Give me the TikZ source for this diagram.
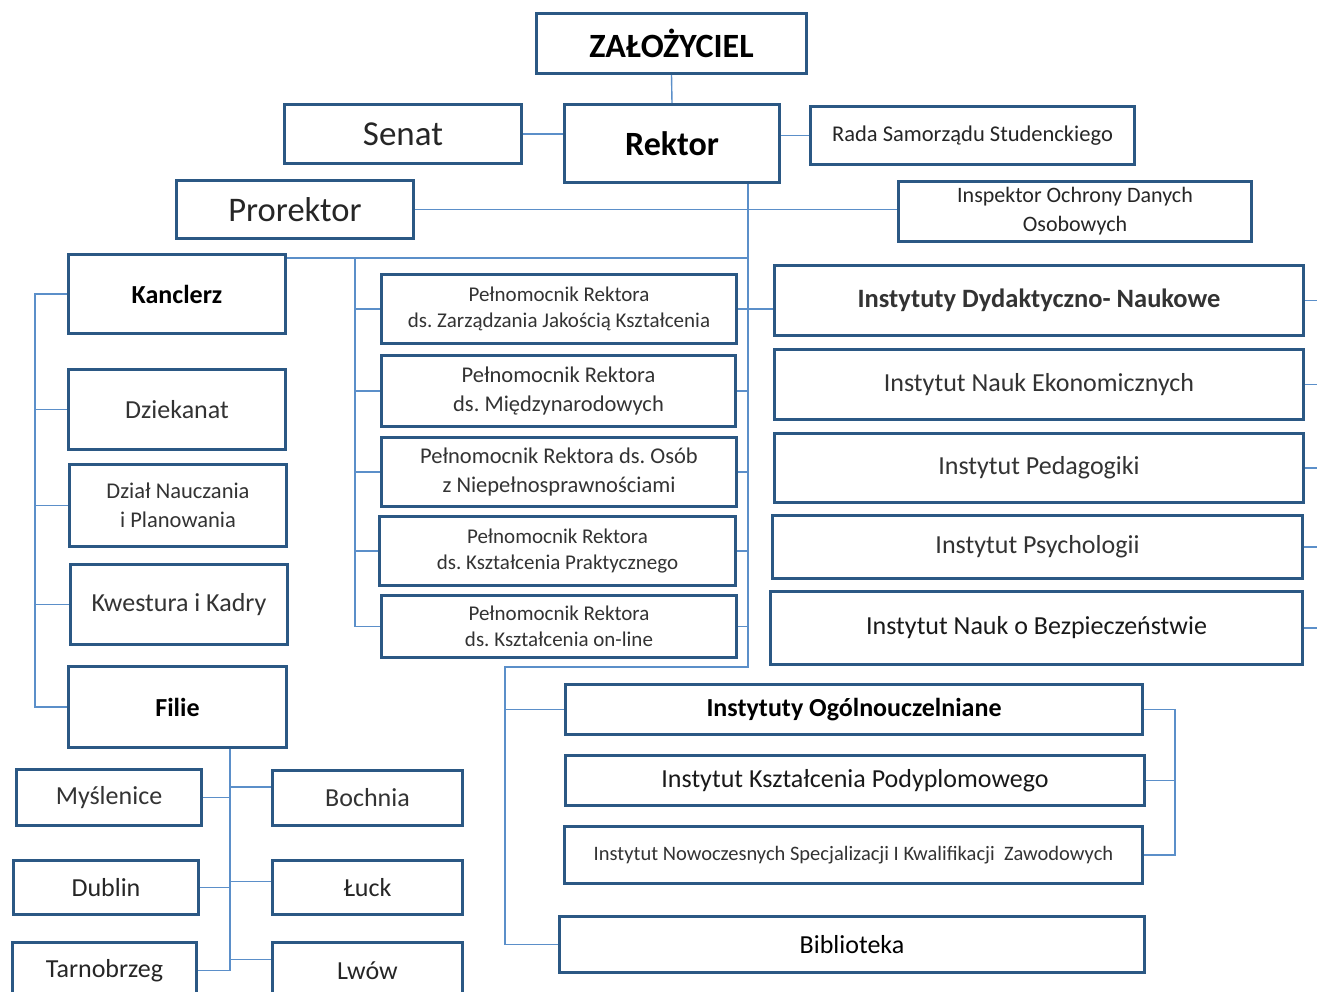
\documentclass[tikz,border=0pt]{standalone}
\usepackage{fontspec}
\setmainfont{Carlito}
\usepackage{tikz}
\frenchspacing

\definecolor{framecol}{HTML}{2B5884}
\definecolor{linkcol}{HTML}{5B8FC9}
\definecolor{txtcol}{HTML}{333333}

\newcommand{\fs}[2]{\fontsize{#1}{#2}\selectfont}

\begin{document}
\begin{tikzpicture}[x=1pt,y=-1pt,unit/.style={draw=framecol,line width=3pt,fill=white,anchor=north west,inner sep=2pt,align=center,text=txtcol},head/.style={unit,text=black},link/.style={draw=linkcol,line width=1.4pt}]
  \useasboundingbox (0,0) rectangle (1317,991);
  %top
  \node[head,at={(535,12)},minimum width=270,minimum height=60,font=\fs{34}{40}\bfseries] (zal) {ZAŁOŻYCIEL};
  \node[unit,at={(283,103)},minimum width=237,minimum height=59,font=\fs{35}{40},text=black!85] (senat) {Senat};
  \node[head,at={(563,103)},minimum width=215,minimum height=78,font=\fs{34}{40}\bfseries] (rektor) {Rektor};
  \node[unit,at={(809,105)},minimum width=324,minimum height=58,font=\fs{22.5}{28},text=black!85] (rada) {Rada Samorządu Studenckiego};
  \node[unit,at={(175,179)},minimum width=237,minimum height=58,font=\fs{34.5}{40},text=black!85] (prorektor) {Prorektor};
  \node[unit,at={(897,180)},minimum width=353,minimum height=60,font=\fs{22}{29},text=black!85] (inspektor) {Inspektor Ochrony Danych\\Osobowych};
  %left
  \node[head,at={(67,253)},minimum width=217,minimum height=79,font=\fs{26}{32}\bfseries] (kanclerz) {Kanclerz};
  \node[unit,at={(67,368)},minimum width=217,minimum height=80,font=\fs{26}{32}] (dziekanat) {Dziekanat};
  \node[unit,at={(68,463)},minimum width=217,minimum height=82,font=\fs{22.5}{29}] (dzial) {Dział Nauczania\\i Planowania};
  \node[unit,at={(69,563)},minimum width=217,minimum height=80,font=\fs{26}{32}] (kwestura) {Kwestura i Kadry};
  \node[head,at={(67,665)},minimum width=218,minimum height=81,font=\fs{26}{32}\bfseries] (filie) {Filie};
  %filie
  \node[unit,at={(15,768)},minimum width=185,minimum height=56,font=\fs{26}{32}] (myslenice) {Myślenice};
  \node[unit,at={(271,769)},minimum width=190,minimum height=55,font=\fs{26}{32}] (bochnia) {Bochnia};
  \node[unit,at={(12,859)},minimum width=185,minimum height=54,font=\fs{26}{32},text=black!85] (dublin) {Dublin};
  \node[unit,at={(271,859)},minimum width=190,minimum height=54,font=\fs{26}{32},text=black!85] (luck) {Łuck};
  \node[unit,at={(11,941)},minimum width=184,minimum height=56,font=\fs{26}{32},text=black!85] (tarnobrzeg) {Tarnobrzeg};
  \node[unit,at={(271,941)},minimum width=190,minimum height=56,font=\fs{26}{32},text=black!85] (lwow) {Lwów};
  %pelnomocnicy
  \node[unit,at={(380,273)},minimum width=355,minimum height=69,font=\fs{21}{26}] (pel1) {Pełnomocnik Rektora\\ds. Zarządzania Jakością Kształcenia};
  \node[unit,at={(380,354)},minimum width=354,minimum height=71,font=\fs{22.5}{29}] (pel2) {Pełnomocnik Rektora\\ds. Międzynarodowych};
  \node[unit,at={(380,436)},minimum width=355,minimum height=69,font=\fs{22.5}{29}] (pel3) {Pełnomocnik Rektora ds. Osób\\z Niepełnosprawnościami};
  \node[unit,at={(378,515)},minimum width=356,minimum height=69,font=\fs{21}{26}] (pel4) {Pełnomocnik Rektora\\ds. Kształcenia Praktycznego};
  \node[unit,at={(380,594)},minimum width=355,minimum height=62,font=\fs{21}{26}] (pel5) {Pełnomocnik Rektora\\ds. Kształcenia on-line};
  %instytuty
  \node[unit,at={(773,264)},minimum width=529,minimum height=70,font=\fs{26.5}{32}\bfseries,text=black!80] (idn) {Instytuty Dydaktyczno- Naukowe};
  \node[unit,at={(773,348)},minimum width=529,minimum height=70,font=\fs{26}{32}] (ine) {Instytut Nauk Ekonomicznych};
  \node[unit,at={(773,432)},minimum width=529,minimum height=69,font=\fs{26}{32}] (iped) {Instytut Pedagogiki};
  \node[unit,at={(771,514)},minimum width=530,minimum height=63,font=\fs{26}{32}] (ipsy) {Instytut Psychologii};
  \node[unit,at={(769,590)},minimum width=532,minimum height=73,font=\fs{26}{32},text=black!90] (ibez) {Instytut Nauk o Bezpieczeństwie};
  %ogolnouczelniane
  \node[head,at={(564,683)},minimum width=577,minimum height=50,font=\fs{26}{32}\bfseries] (iog) {Instytuty Ogólnouczelniane};
  \node[unit,at={(564,754)},minimum width=579,minimum height=50,font=\fs{26}{32},text=black!90] (ikp) {Instytut Kształcenia Podyplomowego};
  \node[unit,at={(563,825)},minimum width=578,minimum height=57,font=\fs{20.5}{26}] (insk) {Instytut Nowoczesnych Specjalizacji I Kwalifikacji~ Zawodowych};
  \node[head,at={(558,915)},minimum width=585,minimum height=56,font=\fs{26}{32}] (bibl) {Biblioteka};

  %buses
  \coordinate (rbus) at (748,0);
  \coordinate (pbus) at (355,0);
  \coordinate (kbus) at (35,0);
  \coordinate (fbus) at (230,0);
  \coordinate (obus) at (505,0);
  \coordinate (rbr) at (1175,0);
  \coordinate (rim) at (1320,0);
  \coordinate (ktop) at (0,258);
  \coordinate (lowbar) at (0,667);
  \coordinate (bochniain) at ([yshift=11pt]bochnia.west);
  \coordinate (luckin) at ([yshift=6pt]luck.west);
  \coordinate (lwowin) at ([yshift=11pt]lwow.west);

  %top links
  \draw[link] (zal.south) -- (rektor.north);
  \draw[link] (senat.east) -- (senat.east -| rektor.west);
  \draw[link] (rektor.east |- rada.west) -- (rada.west);
  \draw[link] (prorektor.east) -- (prorektor.east -| inspektor.west);
  \draw[link] (rbus |- rektor.south) -- (rbus |- lowbar) -- (obus |- lowbar) -- (obus |- bibl.west) -- (bibl.west);
  \draw[link] (obus |- iog.west) -- (iog.west);
  %kanclerz links
  \draw[link] (kanclerz.east |- ktop) -- (rbus |- ktop);
  \draw[link] (kanclerz.west) -- (kbus |- kanclerz.west) -- (kbus |- filie.west) -- (filie.west);
  \draw[link] (kbus |- dziekanat.west) -- (dziekanat.west);
  \draw[link] (kbus |- dzial.west) -- (dzial.west);
  \draw[link] (kbus |- kwestura.west) -- (kwestura.west);
  %filie links
  \draw[link] (fbus |- filie.south) -- (fbus |- tarnobrzeg.east);
  \draw[link] (myslenice.east) -- (fbus |- myslenice.east);
  \draw[link] (dublin.east) -- (fbus |- dublin.east);
  \draw[link] (tarnobrzeg.east) -- (fbus |- tarnobrzeg.east);
  \draw[link] (fbus |- bochniain) -- (bochniain);
  \draw[link] (fbus |- luckin) -- (luckin);
  \draw[link] (fbus |- lwowin) -- (lwowin);
  %pelnomocnik links
  \draw[link] (pbus |- ktop) -- (pbus |- pel5.west);
  \draw[link] (pbus |- pel1.west) -- (pel1.west);
  \draw[link] (pbus |- pel2.west) -- (pel2.west);
  \draw[link] (pbus |- pel3.west) -- (pel3.west);
  \draw[link] (pbus |- pel4.west) -- (pel4.west);
  \draw[link] (pbus |- pel5.west) -- (pel5.west);
  \draw[link] (pel1.east) -- (pel1.east -| idn.west);
  \draw[link] (pel2.east) -- (rbus |- pel2.east);
  \draw[link] (pel3.east) -- (rbus |- pel3.east);
  \draw[link] (pel4.east) -- (rbus |- pel4.east);
  \draw[link] (pel5.east) -- (rbus |- pel5.east);
  %instytuty links
  \draw[link] (idn.east) -- (idn.east -| rim);
  \draw[link] (ine.east) -- (ine.east -| rim);
  \draw[link] (iped.east) -- (iped.east -| rim);
  \draw[link] (ipsy.east) -- (ipsy.east -| rim);
  \draw[link] (ibez.east) -- (ibez.east -| rim);
  \draw[link] (iog.east) -- (rbr |- iog.east) -- (rbr |- insk.east) -- (insk.east);
  \draw[link] (ikp.east) -- (rbr |- ikp.east);
\end{tikzpicture}
\end{document}
